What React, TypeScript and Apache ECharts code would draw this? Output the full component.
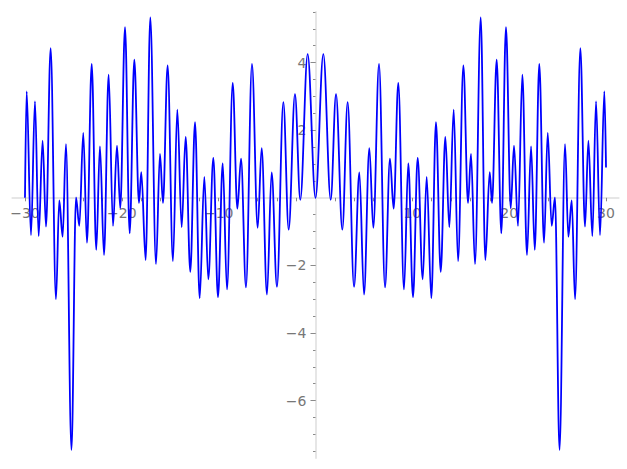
import React, { useEffect, useRef } from "react";
import * as echarts from "echarts";

// Local extrema of the plotted curve.
const LEFT_X = [-30.0, -29.83, -29.38, -28.97, -28.59, -28.18, -27.83, -27.35, -26.8, -26.46, -26.11, -25.77, -25.2, -24.73, -24.39, -23.98, -23.6, -23.11, -22.64, -22.26, -21.84, -21.36, -20.91, -20.5, -20.16, -19.67, -19.19, -18.71, -18.23, -17.99, -17.54, -17.06, -16.47, -16.06, -15.75, -15.27, -14.72, -14.27, -13.82, -13.41, -12.93, -12.44, -11.96, -11.48, -11.07, -10.55, -10.07, -9.58, -9.14, -8.55, -8.07, -7.69, -7.18, -6.56, -5.97, -5.56, -5.01, -4.53, -3.98, -3.32, -2.77, -2.12, -1.57, -0.81];
const LEFT_Y = [0.0, 3.15, -1.1, 2.85, -1.13, 1.69, -0.85, 4.43, -3.0, -0.08, -1.15, 1.59, -7.46, 0.01, -0.83, 1.92, -1.33, 3.96, -1.54, 1.52, -1.69, 3.64, -0.83, 1.54, -0.31, 5.05, -1.05, 4.09, -0.15, 0.76, -1.84, 5.34, -1.96, 1.3, -0.15, 3.92, -1.87, 2.61, -0.87, 1.8, -2.19, 2.24, -2.97, 0.62, -2.41, 1.18, -2.94, 1.02, -2.71, 3.4, -0.32, 1.16, -2.65, 3.96, -0.89, 1.47, -2.86, 0.75, -2.63, 2.83, -0.94, 3.07, -0.06, 4.25];
const RIGHT_X = [0, 0.81, 1.57, 2.12, 2.77, 3.32, 3.98, 4.53, 5.01, 5.56, 5.97, 6.56, 7.18, 7.69, 8.07, 8.55, 9.14, 9.58, 10.07, 10.55, 11.07, 11.48, 11.96, 12.44, 12.93, 13.41, 13.82, 14.27, 14.72, 15.27, 15.75, 16.06, 16.47, 17.06, 17.54, 17.99, 18.23, 18.71, 19.19, 19.67, 20.16, 20.5, 20.91, 21.36, 21.84, 22.26, 22.64, 23.11, 23.6, 23.98, 24.39, 24.73, 25.2, 25.77, 26.11, 26.46, 26.8, 27.35, 27.83, 28.18, 28.59, 28.97, 29.38, 29.83, 30.0];
const RIGHT_Y = [0, 4.25, -0.06, 3.07, -0.94, 2.83, -2.63, 0.75, -2.86, 1.47, -0.89, 3.96, -2.65, 1.16, -0.32, 3.4, -2.71, 1.02, -2.94, 1.18, -2.41, 0.62, -2.97, 2.24, -2.19, 1.8, -0.87, 2.61, -1.87, 3.92, -0.15, 1.3, -1.96, 5.34, -1.84, 0.76, -0.15, 4.09, -1.05, 5.05, -0.31, 1.54, -0.83, 3.64, -1.69, 1.52, -1.54, 3.96, -1.33, 1.92, -0.83, 0.01, -7.46, 1.59, -1.15, -0.08, -3.0, 4.43, -0.85, 1.69, -1.13, 2.85, -1.1, 3.15, 0.9];

const X_TICKS = [-30, -28, -26, -24, -22, -20, -18, -16, -14, -12, -10, -8, -6, -4, -2, 2, 4, 6, 8, 10, 12, 14, 16, 18, 20, 22, 24, 26, 28, 30];
const X_LABELS = [-30, -20, -10, 10, 20, 30];
const Y_MINOR_TICKS = [-7.5, -7, -6.5, -6, -5.5, -5, -4.5, -4, -3.5, -3, -2.5, -2, -1.5, -1, -0.5, 0.5, 1, 1.5, 2, 2.5, 3, 3.5, 4, 4.5, 5, 5.5];
const Y_LABELS = [-6, -4, -2, 2, 4];

const X_MIN = -31.3, X_MAX = 31.3, Y_MIN = -7.7, Y_MAX = 5.5;

const fmt = (v: number) => String(v).replace("-", "\u2212");

export default function App() {
  const ref = useRef<HTMLDivElement>(null);
  useEffect(() => {
    if (!ref.current) return;
    const chart = echarts.init(ref.current, undefined, { renderer: "svg" });
    const data: number[][] = [];
    LEFT_X.forEach((x, i) => data.push([x, LEFT_Y[i]]));
    RIGHT_X.forEach((x, i) => data.push([x, RIGHT_Y[i]]));

    const W = 627, H = 469;
    const L = 12.4, R = 8.4, T = 11.9, B = 10.9;
    const plotW = W - L - R, plotH = H - T - B;
    const zeroX = L + ((0 - X_MIN) / (X_MAX - X_MIN)) * plotW;
    const zeroY = T + ((Y_MAX - 0) / (Y_MAX - Y_MIN)) * plotH;

    const base = { outerBoundsMode: "none", containLabel: false };
    const axisGrey = "#e6e6e6";
    const tickGrey = "#8a8a8a";
    const labelStyle = { color: "#777777", fontSize: 14, fontFamily: "DejaVu Sans" };
    const hiddenX = (gi: number) => ({ type: "value", gridIndex: gi, min: X_MIN, max: X_MAX, show: false });
    const hiddenY = (gi: number) => ({ type: "value", gridIndex: gi, min: Y_MIN, max: Y_MAX, show: false });

    chart.setOption({
      animation: false,
      grid: [
        { ...base, left: L, right: R, top: T, bottom: B },
        { ...base, left: L, right: R, top: T, height: zeroY - T },
        { ...base, left: zeroX, right: R, top: T, bottom: B },
        { ...base, left: zeroX, right: R, top: T, bottom: B },
      ],
      xAxis: [
        hiddenX(0),
        {
          type: "value", gridIndex: 1, min: X_MIN, max: X_MAX, position: "bottom",
          axisLine: { show: true, onZero: false, lineStyle: { color: axisGrey, width: 2 } },
          axisTick: { show: true, customValues: X_TICKS, length: 3.5, lineStyle: { color: tickGrey, width: 1 } },
          axisLabel: { customValues: X_LABELS, formatter: fmt, margin: 8, ...labelStyle },
          splitLine: { show: false },
        },
        hiddenX(2),
        hiddenX(3),
      ],
      yAxis: [
        hiddenY(0),
        { type: "value", gridIndex: 1, min: 0, max: 1, show: false },
        {
          type: "value", gridIndex: 2, min: Y_MIN, max: Y_MAX, position: "left",
          axisLine: { show: true, onZero: false, lineStyle: { color: axisGrey, width: 2 } },
          axisTick: { show: true, customValues: Y_LABELS, length: 5, lineStyle: { color: tickGrey, width: 1 } },
          axisLabel: { customValues: Y_LABELS, formatter: fmt, margin: 9, ...labelStyle },
          splitLine: { show: false },
        },
        {
          type: "value", gridIndex: 3, min: Y_MIN, max: Y_MAX, position: "left",
          axisLine: { show: false, onZero: false },
          axisTick: { show: true, customValues: Y_MINOR_TICKS, length: 2.5, lineStyle: { color: tickGrey, width: 1 } },
          axisLabel: { show: false },
          splitLine: { show: false },
        },
      ],
      series: [
        {
          type: "line", xAxisIndex: 0, yAxisIndex: 0, data,
          showSymbol: false, symbol: "none",
          smooth: 0.36, smoothMonotone: "x",
          lineStyle: { color: "#0000ff", width: 1.8 },
          z: 5,
        },
      ],
    });
    return () => chart.dispose();
  }, []);
  return <div ref={ref} style={{ width: 627, height: 469, position: "absolute", left: 0, top: 0 }} />;
}
